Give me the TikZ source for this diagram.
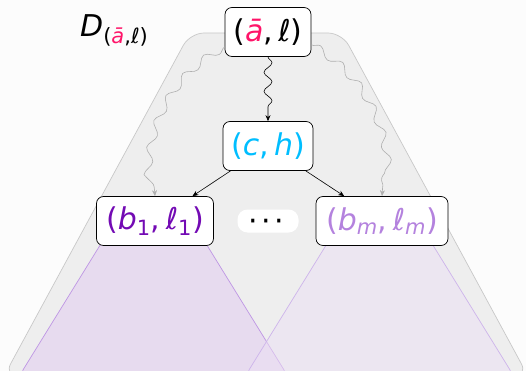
\documentclass[tikz,border=0pt]{standalone}
\usepackage{fontspec}
\setmainfont{DejaVu Sans}
\usetikzlibrary{decorations.pathmorphing,arrows.meta}
\definecolor{bgc}{RGB}{252,252,252}
\definecolor{rose}{RGB}{255,20,105}
\definecolor{skyc}{RGB}{0,190,255}
\definecolor{darkpurp}{RGB}{115,10,180}
\definecolor{lightpurp}{RGB}{180,130,222}
\definecolor{trapfill}{RGB}{238,238,238}
\definecolor{trapline}{RGB}{200,200,200}
\definecolor{snakegray}{RGB}{175,175,175}
\definecolor{p1fill}{RGB}{231,219,239}
\definecolor{p1line}{RGB}{190,150,228}
\definecolor{p2fill}{RGB}{236,224,244}
\definecolor{p2line}{RGB}{205,180,235}
\begin{document}
\begin{tikzpicture}[x=1pt,y=-1pt,
  tnode/.style={draw=black,line width=0.7pt,fill=white,rounded corners=7pt,minimum height=49pt,inner sep=0pt,font=\fontsize{30}{34}\selectfont},
  tip/.style={-{Stealth[length=6pt,width=5pt]}},
  graysnake/.style={snakegray,line width=0.6pt,tip,decorate,decoration={snake,amplitude=4pt,segment length=27pt,post length=8pt}}]
\useasboundingbox (0,0) rectangle (526,371);
\fill[bgc] (0,0) rectangle (526,371);
% big trapezoid
\path[draw=trapline,fill=trapfill,line width=0.7pt,rounded corners=14pt]
  (190,33) -- (342,33) -- (528,376) -- (4,376) -- cycle;
% purple trapezoids
\path[draw=p1line,fill=p1fill,line width=0.7pt,rounded corners=10pt]
  (115,221) -- (192,221) -- (289,378) -- (18,378) -- cycle;
\path[draw=p2line,fill=p2fill,fill opacity=0.5,line width=0.7pt,rounded corners=10pt]
  (341,221) -- (418,221) -- (515,378) -- (244,378) -- cycle;
% nodes
\node[tnode,minimum width=86pt] (root) at (268,32) {(\textit{\textcolor{rose}{ā}},\hspace{0.18em}\textit{ℓ})};
\node[tnode,minimum width=90pt,text=skyc] (ch) at (268,146) {(\textit{c},\hspace{0.18em}\textit{h})};
\node[tnode,minimum width=117pt,text=darkpurp] (b1) at (155,221) {(\textit{b}\textsubscript{1},\hspace{0.18em}\textit{ℓ}\textsubscript{1})};
\node[tnode,minimum width=132pt,text=lightpurp] (bm) at (382,221) {(\textit{b}\textsubscript{\textit{m}},\hspace{0.18em}\textit{ℓ}\textsubscript{\textit{m}})};
\node[fill=white,rounded corners=10pt,minimum width=61pt,minimum height=23pt,inner sep=0pt] (dots) at (268,221) {};
\node[font=\fontsize{30}{34}\selectfont,inner sep=0pt,anchor=base] (dottext) at (266,231) {·\hspace{0.12em}·\hspace{0.12em}·};
% label
\node[anchor=base west,inner sep=0pt,font=\fontsize{30}{34}\selectfont] (lab) at (80,37)
  {\textit{D}\raisebox{-7pt}{\fontsize{21}{24}\selectfont(\textit{\textcolor{rose}{ā}},\textit{ℓ})}};
% connectors
\coordinate (gl) at ([yshift=10pt]root.south west);
\coordinate (gr) at ([yshift=12pt]root.south east);
\draw[tip,line width=0.6pt,decorate,decoration={snake,amplitude=4pt,segment length=19pt,post length=7pt}] (root) -- (ch);
\draw[tip,line width=0.6pt] (ch) -- (b1);
\draw[tip,line width=0.6pt] (ch) -- (bm);
\draw[graysnake] (gl) .. controls (175,75) and (148,128) .. (b1.north);
\draw[graysnake] (gr) .. controls (361,75) and (388,128) .. (bm.north);
\end{tikzpicture}
\end{document}
